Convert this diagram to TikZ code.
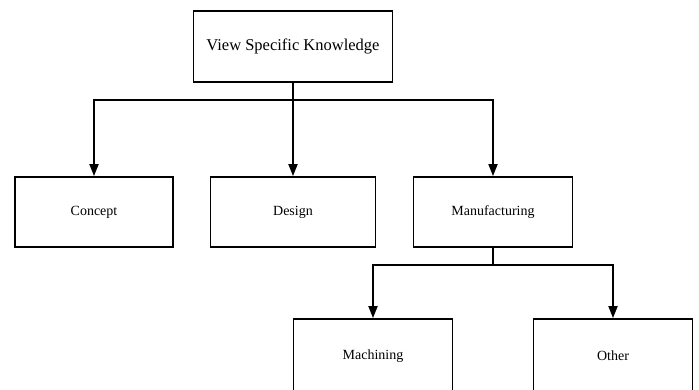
\documentclass[tikz,border=0pt]{standalone}
\usepackage{fontspec}
\setmainfont{Liberation Serif}
\usetikzlibrary{arrows.meta}
\begin{document}
\begin{tikzpicture}[x=1pt,y=-1pt,
  box/.style={draw=black,line width=1.8pt,fill=white,minimum height=70pt,inner sep=0pt,font=\fontsize{14}{16}\selectfont},
  link/.style={line width=1.8pt,-{Triangle[length=12pt,width=9pt]}}]
\useasboundingbox[fill=white] (0,0) rectangle (699,389);
\node[box,minimum width=199pt,minimum height=71pt,font=\fontsize{16.5}{19}\selectfont] (top) at (293,46.5) {View Specific Knowledge};
\node[box,minimum width=158pt] (concept) at (94,212) {Concept};
\node[box,minimum width=165pt] (design) at (293,212) {Design};
\node[box,minimum width=159pt] (manu) at (493,212) {Manufacturing};
\node[box,minimum width=159pt,minimum height=74pt] (mach) at (373,356) {Machining};
\node[box,minimum width=159pt,minimum height=74pt] (other) at (613,356) {Other};
\coordinate (b1) at (293,100);
\coordinate (b2) at (493,265);
\draw[link] (top.south) -- (b1) -| (concept.north);
\draw[link] (b1) -- (design.north);
\draw[link] (b1) -| (manu.north);
\draw[link] (manu.south) -- (b2) -| (mach.north);
\draw[link] (b2) -| (other.north);
\end{tikzpicture}
\end{document}
